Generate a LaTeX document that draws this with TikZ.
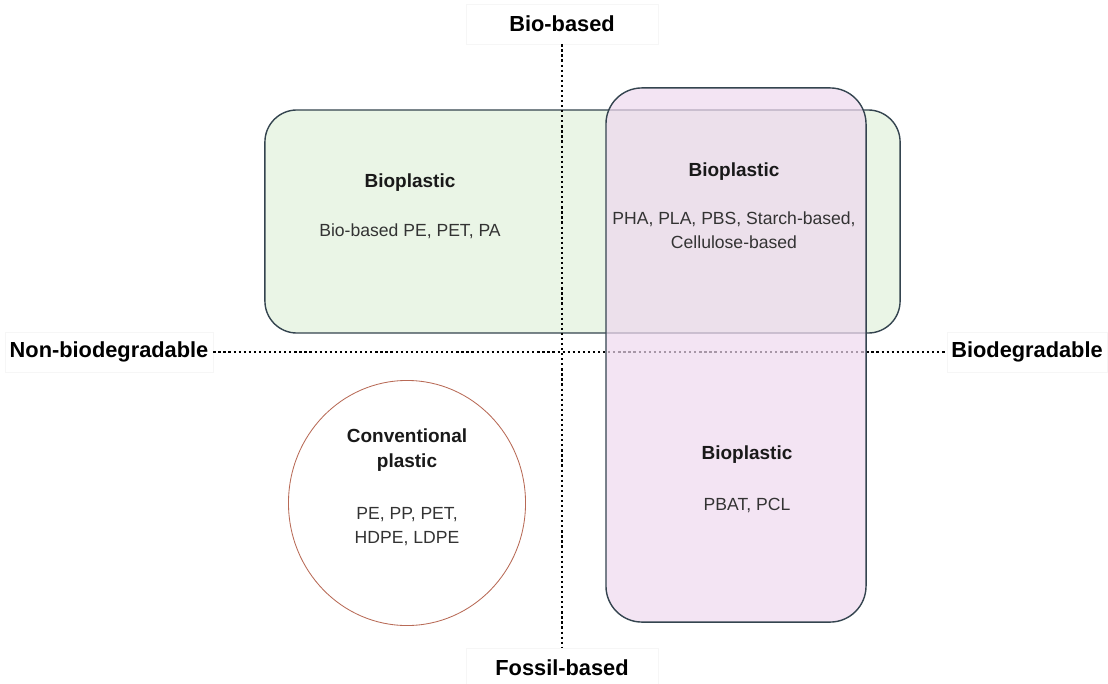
\documentclass[tikz,border=0pt]{standalone}
\usepackage{fontspec}
\setmainfont{Liberation Sans}
\usetikzlibrary{positioning, shapes.geometric}
\definecolor{bgreen}{HTML}{EAF5E6}
\definecolor{bpink}{HTML}{EED8EE}
\definecolor{edgeslate}{HTML}{34444F}
\definecolor{convred}{HTML}{B86A56}

\begin{document}
\begin{tikzpicture}[x=0.025cm, y=-0.025cm,
    axislabel/.style={draw=gray!7, line width=0.4pt, inner sep=2pt,
                      minimum height=1cm, font=\fontsize{15.5}{18}\selectfont\bfseries},
    region/.style={draw=edgeslate, line width=1pt, rounded corners=0.8cm},
    title/.style={font=\fontsize{13.5}{17.7}\selectfont\bfseries, text=black!90, align=center},
    body/.style={font=\fontsize{12.5}{17}\selectfont, text=black!80, align=center},
    axisline/.style={line width=1.6pt, dash pattern=on 1.6pt off 2pt},
  ]
  \useasboundingbox (0,0) rectangle (1108,683);

  % regions
  \node[region, fill=bgreen, minimum width=15.875cm, minimum height=5.575cm] (biobox) at (582.5,221.5) {};

  % axis labels
  \node[axislabel, minimum width=4.8cm] (biobased) at (562,24)  {Bio-based};
  \node[axislabel, minimum width=4.8cm] (fossil)   at (562,668) {Fossil-based};
  \node[axislabel, minimum width=5.2cm] (nonbio)   at (109,352) {Non-biodegradable};
  \node[axislabel, minimum width=4cm]   (biodeg)   at (1027,352) {Biodegradable};

  \draw[axisline] (nonbio) -- (biodeg);

  \node[region, fill=bpink, fill opacity=0.7, rounded corners=0.9cm,
        minimum width=6.5cm, minimum height=13.35cm] (degbox) at (736,355) {};
  \node[ellipse, draw=convred, line width=0.6pt, fill=white,
        minimum width=5.925cm, minimum height=6.125cm] (convell) at (407,503) {};

  \draw[axisline] (biobased) -- (fossil);

  % texts
  \node[title] (biotitle)  at (410,183) {Bioplastic};
  \node[body]  (biotxt)    at (410,231) {Bio-based PE, PET, PA};
  \node[title] (bothtitle) at (734,172) {Bioplastic};
  \node[body]  (bothtxt)   at (734,230) {PHA, PLA, PBS, Starch-based,\\Cellulose-based};
  \node[title] (degtitle)  at (747,455) {Bioplastic};
  \node[body]  (degtxt)    at (747,505) {PBAT, PCL};
  \node[title] (convtitle) at (407,450) {Conventional\\plastic};
  \node[body]  (convtxt)   at (407,527) {PE, PP, PET,\\HDPE, LDPE};
\end{tikzpicture}
\end{document}
